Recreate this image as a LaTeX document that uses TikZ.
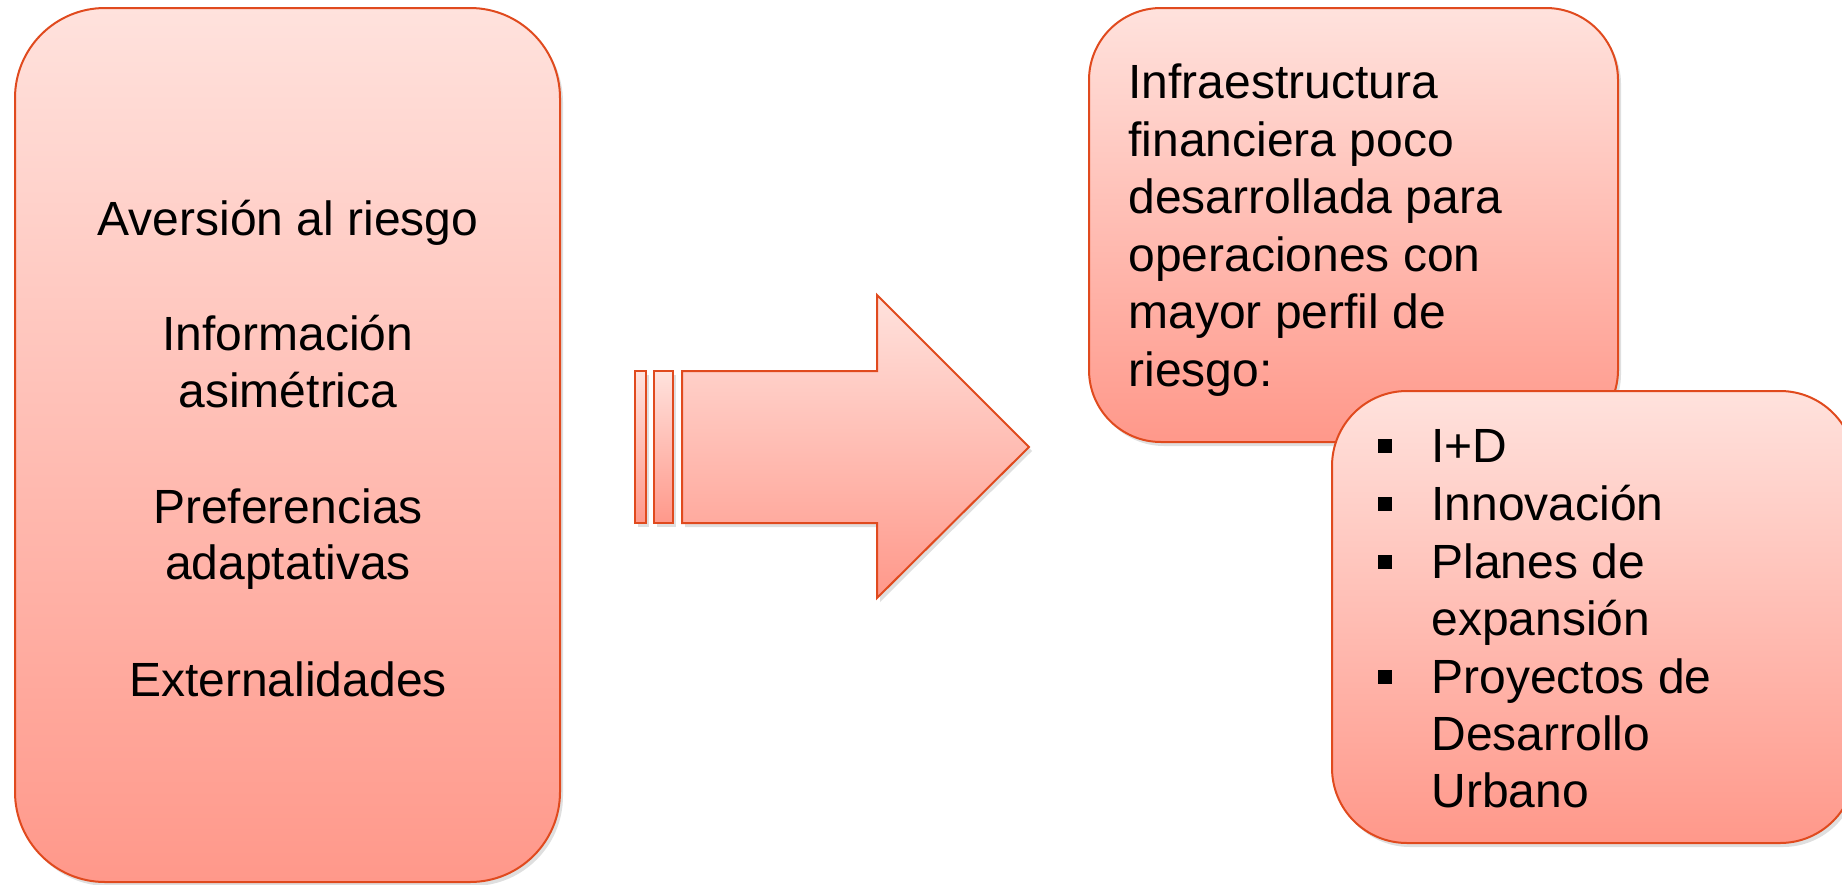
\documentclass[tikz,border=0pt]{standalone}
\usepackage{fontspec}
\setmainfont{Liberation Sans}
\usetikzlibrary{shadows,positioning}
\usepackage{xcolor}

\definecolor{boxedge}{RGB}{224,74,30}
\definecolor{boxtop}{RGB}{255,226,221}
\definecolor{boxbottom}{RGB}{255,152,138}

\begin{document}
\begin{tikzpicture}[x=0.5pt, y=-0.5pt,
            pink box/.style={draw=boxedge, line width=1pt,
                top color=boxtop, bottom color=boxbottom,
                drop shadow={opacity=0.25, shadow xshift=1.5pt, shadow yshift=-2pt}},
            line text/.style={font=\fontsize{24pt}{28.8pt}\selectfont,
                inner sep=0pt, anchor=base},
            bullet mark/.style={fill=black, inner sep=0pt, minimum size=7pt}]

        \useasboundingbox (0,0) rectangle (1842,884);

        % left box: causes
        \node[pink box, rounded corners=45pt, minimum width=272.5pt,
              minimum height=437pt] (causas) at (287.5,445) {};
        \foreach \txt/\y [count=\i] in {Aversión al riesgo/235, Información/350,
                asimétrica/407, Preferencias/523, adaptativas/579, Externalidades/696}
            \node[line text] (causa\i) at (288,\y) {\txt};

        % striped arrow
        \draw[pink box] (635,371) rectangle (646,523);
        \draw[pink box] (654,371) rectangle (673,523);
        \draw[pink box] (682,371) -- (877,371) -- (877,295) -- (1029,447)
            -- (877,598) -- (877,523) -- (682,523) -- cycle;

        % top right box
        \node[pink box, rounded corners=36pt, minimum width=264.5pt,
              minimum height=217pt] (infra) at (1353.5,225) {};
        \foreach \txt/\y [count=\i] in {Infraestructura/98, financiera poco/156,
                desarrollada para/213, operaciones con/271, mayor perfil de/328,
                riesgo:/386}
            \node[line text, anchor=base west] (infra\i) at (1128,\y) {\txt};

        % bullet box
        \node[pink box, rounded corners=37.5pt, minimum width=261.5pt,
              minimum height=226pt] (lista) at (1593.5,617) {};
        \foreach \txt/\y [count=\i] in {I+D/462, Innovación/520, Planes de/578,
                expansión/635, Proyectos de/693, Desarrollo/750, Urbano/807}
            \node[line text, anchor=base west] (item\i) at (1431,\y) {\txt};
        \foreach \y [count=\i] in {462,520,578,693}
            \node[bullet mark] (punto\i) at (1385,\y-16.5) {};

\end{tikzpicture}
\end{document}
